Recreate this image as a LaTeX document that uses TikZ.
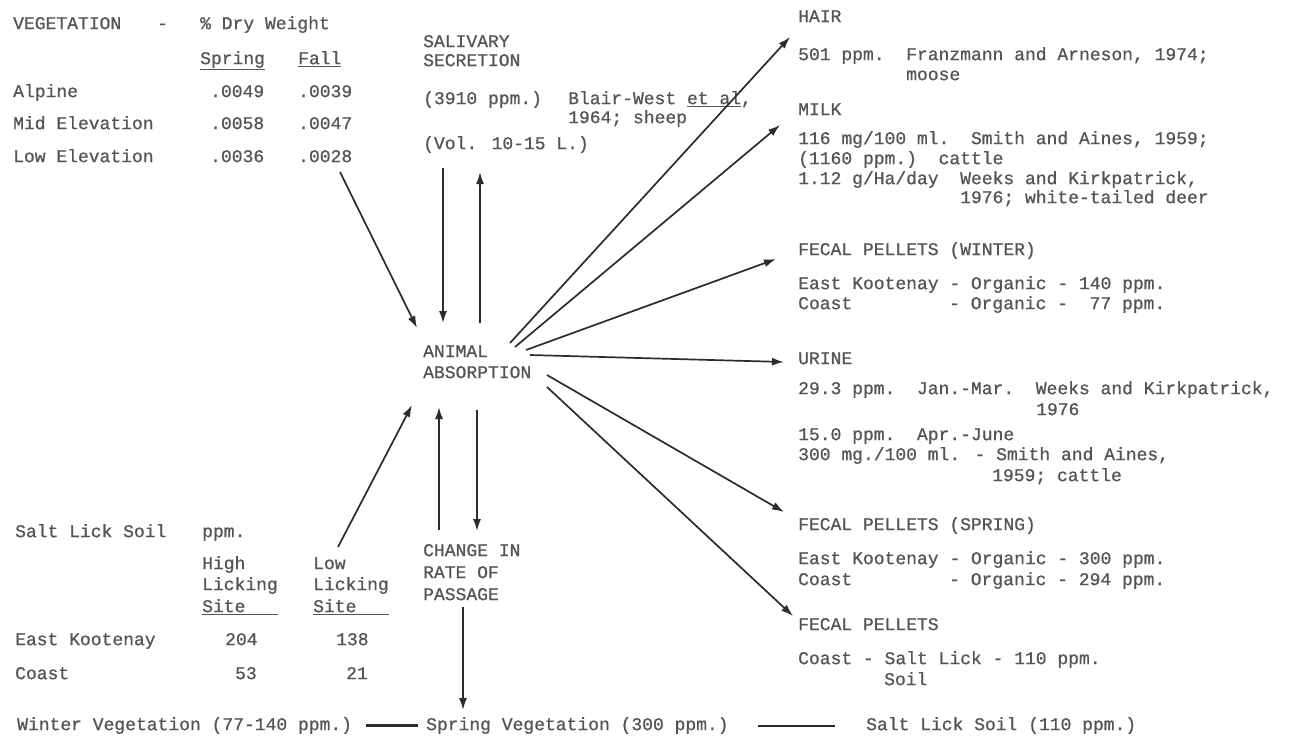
\documentclass[tikz,border=0pt]{standalone}
\usepackage{fontspec}
\newfontfamily\tw[FakeBold=0.8]{Liberation Mono}
\usetikzlibrary{arrows.meta}
\definecolor{ink}{HTML}{555555}
\definecolor{pen}{HTML}{2C2C2C}
\begin{document}
\begin{tikzpicture}[x=1pt,y=-1pt,
  txt/.style={anchor=mid west, inner sep=0pt, text=ink, font={\tw\fontsize{18}{20}\selectfont}},
  arr/.style={draw=pen, line width=1.7pt, -{Latex[length=12pt,width=8pt]}},
  link/.style={draw=pen, line width=1.6pt}
]
\useasboundingbox (0,0) rectangle (1294,740);
\fill[white] (0,0) rectangle (1294,740);

% ---------------- vegetation table (top left)
\node[txt] (veg)   at (13,27)  {VEGETATION};
\node[txt] (vdash) at (157,27) {-};
\node[txt] (dry)   at (200,27) {\% Dry Weight};
\node[txt] (spr)   at (200,62) {\underline{Spring}};
\node[txt] (fal)   at (298,62) {\underline{Fall}};
\node[txt] (alp)   at (13,95)  {Alpine};
\node[txt] (a1)    at (210,95) {.0049};
\node[txt] (a2)    at (298,95) {.0039};
\node[txt] (mid)   at (13,127) {Mid Elevation};
\node[txt] (m1)    at (210,127) {.0058};
\node[txt] (m2)    at (298,127) {.0047};
\node[txt] (low)   at (13,160) {Low Elevation};
\node[txt] (l1)    at (210,160) {.0036};
\node[txt] (l2)    at (298,160) {.0028};

% ---------------- salivary secretion
\node[txt] (sal1) at (423,45)  {SALIVARY};
\node[txt] (sal2) at (423,64)  {SECRETION};
\node[txt] (sal3) at (423,102) {(3910 ppm.)};
\node[txt] (sal4) at (568,102) {Blair-West \underline{et al},};
\node[txt] (sal5) at (568,121) {1964; sheep};
\node[txt] (sal6) at (423,147) {(Vol. 10-15 L.)};

% ---------------- centre
\node[txt] (an1) at (423,355) {ANIMAL};
\node[txt] (an2) at (423,376) {ABSORPTION};
\node[txt] (ch1) at (423,554) {CHANGE IN};
\node[txt] (ch2) at (423,576) {RATE OF};
\node[txt] (ch3) at (423,598) {PASSAGE};

% ---------------- salt lick soil table (bottom left)
\node[txt] (sl)  at (15,535)  {Salt Lick Soil};
\node[txt] (slp) at (202,535) {ppm.};
\node[txt] (h1)  at (202,567) {High};
\node[txt] (h2)  at (202,588) {Licking};
\node[txt] (h3)  at (202,610) {\underline{Site\hphantom{xxx}}};
\node[txt] (w1)  at (313,567) {Low};
\node[txt] (w2)  at (313,588) {Licking};
\node[txt] (w3)  at (313,610) {\underline{Site\hphantom{xxx}}};
\node[txt] (ek)  at (15,643)  {East Kootenay};
\node[txt] (ek1) at (225,643) {204};
\node[txt] (ek2) at (336,643) {138};
\node[txt] (co)  at (15,677)  {Coast};
\node[txt] (co1) at (235,677) {53};
\node[txt] (co2) at (346,677) {21};

% ---------------- right column
\node[txt] (hair)  at (798,20)  {HAIR};
\node[txt] (hair1) at (798,58)  {501 ppm.};
\node[txt] (hair2) at (906,58)  {Franzmann and Arneson, 1974;};
\node[txt] (hair3) at (906,78)  {moose};

\node[txt] (milk)  at (798,113) {MILK};
\node[txt] (milk1) at (798,142) {116 mg/100 ml.\ \ Smith and Aines, 1959;};
\node[txt] (milk2) at (798,162) {(1160 ppm.)\ \ cattle};
\node[txt] (milk3) at (798,182) {1.12 g/Ha/day\ \ Weeks and Kirkpatrick,};
\node[txt] (milk4) at (960,201) {1976; white-tailed deer};

\node[txt] (fw)  at (798,253) {FECAL PELLETS (WINTER)};
\node[txt] (fw1) at (798,287) {East Kootenay - Organic - 140 ppm.};
\node[txt] (fw2) at (798,307) {Coast};
\node[txt] (fw3) at (949,307) {- Organic -\ \ 77 ppm.};

\node[txt] (ur)  at (798,362) {URINE};
\node[txt] (ur1) at (798,392) {29.3 ppm.\ \ Jan.-Mar.\ \ Weeks and Kirkpatrick,};
\node[txt] (ur2) at (1036,413) {1976};
\node[txt] (ur3) at (798,438) {15.0 ppm.\ \ Apr.-June};
\node[txt] (ur4) at (798,458) {300 mg./100 ml. - Smith and Aines,};
\node[txt] (ur5) at (992,479) {1959; cattle};

\node[txt] (fs)  at (798,528) {FECAL PELLETS (SPRING)};
\node[txt] (fs1) at (798,562) {East Kootenay - Organic - 300 ppm.};
\node[txt] (fs2) at (798,583) {Coast};
\node[txt] (fs3) at (949,583) {- Organic - 294 ppm.};

\node[txt] (fp)  at (798,628) {FECAL PELLETS};
\node[txt] (fp1) at (798,662) {Coast - Salt Lick - 110 ppm.};
\node[txt] (fp2) at (884,683) {Soil};

% ---------------- bottom line
\node[txt] (bw) at (17,728)  {Winter Vegetation (77-140 ppm.)};
\node[txt] (bs) at (426,728) {Spring Vegetation (300 ppm.)};
\node[txt] (bl) at (866,728) {Salt Lick Soil (110 ppm.)};

% ---------------- arrow end points
\coordinate (vegout) at (340,172);
\coordinate (vegin)  at (417,328);
\coordinate (saldn1) at (443,168);
\coordinate (saldn2) at (443,323);
\coordinate (salup1) at (480,323);
\coordinate (salup2) at (480,172);
\coordinate (o1) at (510,343);
\coordinate (o2) at (515,347);
\coordinate (o3) at (526,350);
\coordinate (o4) at (530,355);
\coordinate (o5) at (547,375);
\coordinate (o6) at (547,387);
\coordinate (thair) at (790,37);
\coordinate (tmilk) at (780,125);
\coordinate (tfw)   at (776,259);
\coordinate (tur)   at (784,362);
\coordinate (tfs)   at (784,512);
\coordinate (tfp)   at (793,616);
\coordinate (slout) at (338,547);
\coordinate (slin)  at (412,405);
\coordinate (chup1) at (439,530);
\coordinate (chup2) at (439,407);
\coordinate (chdn1) at (477,410);
\coordinate (chdn2) at (477,531);
\coordinate (pdn1)  at (463,607);
\coordinate (pdn2)  at (463,710);

% ---------------- arrows
\draw[arr] (vegout) -- (vegin);
\draw[arr] (saldn1) -- (saldn2);
\draw[arr] (salup1) -- (salup2);
\draw[arr] (o1) -- (thair);
\draw[arr] (o2) -- (tmilk);
\draw[arr] (o3) -- (tfw);
\draw[arr] (o4) -- (tur);
\draw[arr] (o5) -- (tfs);
\draw[arr] (o6) -- (tfp);
\draw[arr] (slout) -- (slin);
\draw[arr] (chup1) -- (chup2);
\draw[arr] (chdn1) -- (chdn2);
\draw[arr] (pdn1) -- (pdn2);

% ---------------- bottom connectors
\draw[link, line width=3pt] ([xshift=14pt]bw.east) -- ([xshift=-8pt]bs.west);
\draw[link, line width=2pt] ([xshift=29pt]bs.east) -- ([xshift=-31pt]bl.west);
\end{tikzpicture}
\end{document}
